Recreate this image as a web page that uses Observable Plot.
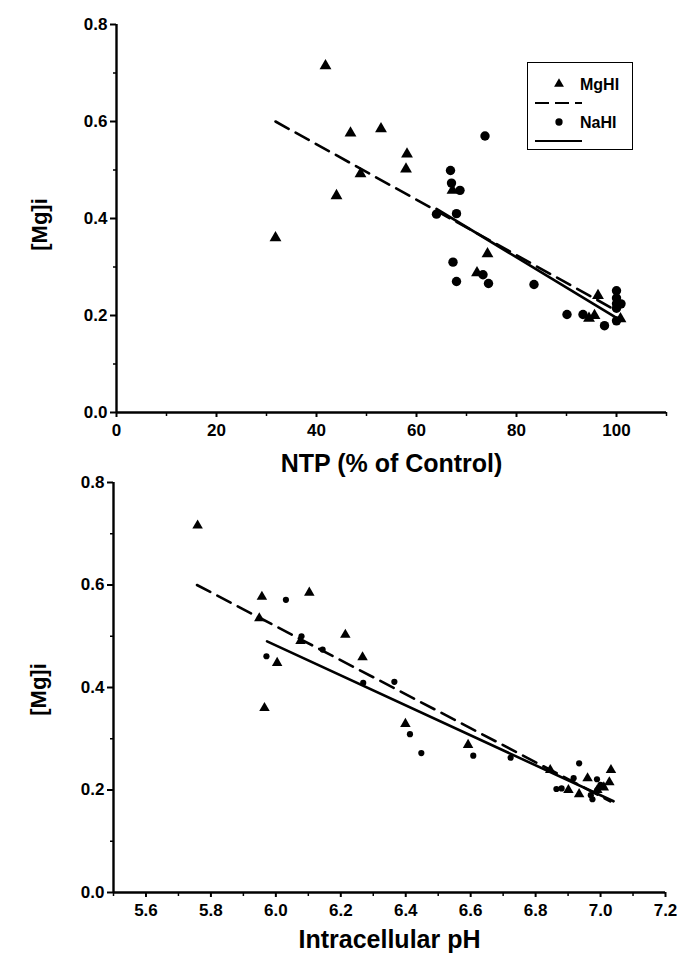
<!DOCTYPE html>
<html>
<head>
<meta charset="utf-8">
<script src="https://cdn.jsdelivr.net/npm/d3@7"></script>
<script src="https://cdn.jsdelivr.net/npm/@observablehq/plot@0.6"></script>
<style>
  html, body { margin: 0; padding: 0; background: #fff; }
  #wrap { position: relative; width: 677px; height: 955px; font-family: "Liberation Sans", Arial, sans-serif; }
  #wrap svg { display: block; }
  #wrap svg text { font-weight: bold; }
  #wrap svg g[aria-label$="tick label"], #wrap svg g[aria-label$="tick label"] text { font-size: 17px !important; font-weight: bold; }
  #legend { position: absolute; left: 527px; top: 62px; width: 106px; height: 88px; border: 1.5px solid #000; background: #fff; box-sizing: border-box; }
</style>
</head>
<body>
<div id="wrap">
  <div id="top"></div>
  <div id="bottom"></div>
  <div id="legend"></div>
</div>
<script>
// ---------- data ----------
// Top panel: NTP (% of control) vs [Mg]i
const ntpMgHI = [31.8, 41.8, 44.0, 46.8, 48.8, 52.9, 57.9, 58.1, 67.2, 72.1, 74.2, 94.5, 95.6, 96.3, 100.8];
const mgTopMgHI = [0.360, 0.715, 0.447, 0.576, 0.492, 0.585, 0.502, 0.533, 0.458, 0.288, 0.327, 0.194, 0.200, 0.241, 0.193];
const ntpNaHI = [64.0, 66.8, 67.0, 67.3, 68.0, 68.0, 68.7, 73.3, 73.7, 74.4, 83.5, 90.1, 93.3, 97.6, 100.0, 100.0, 100.0, 100.0, 100.0, 100.9];
const mgTopNaHI = [0.409, 0.499, 0.473, 0.310, 0.410, 0.270, 0.458, 0.284, 0.570, 0.266, 0.264, 0.202, 0.202, 0.179, 0.251, 0.236, 0.224, 0.215, 0.189, 0.224];
// regression lines (end points)
const fitTopMgHI_x = [31.8, 100.0], fitTopMgHI_y = [0.600, 0.210];
const fitTopNaHI_x = [64.0, 100.0], fitTopNaHI_y = [0.420, 0.195];

// Bottom panel: intracellular pH vs [Mg]i
const phMgHI = [5.759, 5.957, 6.103, 5.949, 6.076, 6.214, 6.004, 6.267, 5.965, 6.399, 6.592, 6.845, 6.960, 7.032, 7.027, 6.901, 6.934, 6.990, 7.010];
const mgBotMgHI = [0.716, 0.577, 0.585, 0.535, 0.491, 0.503, 0.448, 0.459, 0.360, 0.329, 0.288, 0.239, 0.223, 0.239, 0.215, 0.200, 0.192, 0.200, 0.205];
const phNaHI = [6.031, 6.079, 6.144, 5.971, 6.269, 6.365, 6.413, 6.448, 6.608, 6.723, 6.934, 6.917, 6.989, 6.864, 6.880, 6.975, 6.970, 6.990, 7.000];
const mgBotNaHI = [0.571, 0.500, 0.474, 0.461, 0.409, 0.411, 0.309, 0.272, 0.267, 0.263, 0.252, 0.223, 0.221, 0.202, 0.203, 0.182, 0.190, 0.200, 0.210];
const fitBotMgHI_x = [5.757, 7.030], fitBotMgHI_y = [0.600, 0.178];
const fitBotNaHI_x = [5.973, 7.040], fitBotNaHI_y = [0.490, 0.178];

// axes
const yTicks = [0, 0.2, 0.4, 0.6, 0.8];
const yMinor = [0.1, 0.3, 0.5, 0.7];
const ntpTicks = [0, 20, 40, 60, 80, 100];
const ntpMinor = [10, 30, 50, 70, 90, 110];
const phTicks = [5.6, 5.8, 6.0, 6.2, 6.4, 6.6, 6.8, 7.0, 7.2];
const phMinor = [5.5, 5.7, 5.9, 6.1, 6.3, 6.5, 6.7, 6.9, 7.1];
const seriesNames = ["MgHI", "NaHI"];

const zip = (xs, ys) => xs.map((x, i) => ({x, y: ys[i]}));
const FONT = "'Liberation Sans', Arial, sans-serif";

function panel(o) {
  return Plot.plot({
    width: 677, height: o.height,
    marginTop: o.mt, marginBottom: o.mb, marginLeft: o.ml, marginRight: o.mr,
    style: {fontFamily: FONT, fontSize: "17px", fontWeight: "bold", color: "#000", background: "#fff", overflow: "visible"},
    x: {domain: o.xDomain, label: null},
    y: {domain: [0, 0.8], label: null},
    marks: [
      Plot.axisY({ticks: yTicks, tickFormat: d3.format(".1f"), tickSize: 6, tickPadding: 3, strokeWidth: 2, label: null}),
      Plot.axisY({ticks: yMinor, tickFormat: () => "", tickSize: 3, strokeWidth: 1.5, label: null}),
      Plot.axisX({ticks: o.xTicks, tickFormat: o.xFmt, tickSize: 5, tickPadding: 6, strokeWidth: 2, label: null}),
      Plot.axisX({ticks: o.xMinor, tickFormat: () => "", tickSize: 4, strokeWidth: 1.5, label: null}),
      Plot.ruleX([o.xDomain[0]], {y1: 0, y2: 0.8, strokeWidth: 2.4}),
      Plot.ruleY([0], {x1: o.xDomain[0], x2: o.xDomain[1], strokeWidth: 2.4}),
      Plot.line(zip(o.dashX, o.dashY), {x: "x", y: "y", stroke: "#000", strokeWidth: 2.6, strokeDasharray: "15,8"}),
      Plot.line(zip(o.solidX, o.solidY), {x: "x", y: "y", stroke: "#000", strokeWidth: 2.6}),
      Plot.dot(zip(o.triX, o.triY), {x: "x", y: "y", symbol: "triangle", fill: "#000", stroke: "none", r: o.rTri}),
      Plot.dot(zip(o.cirX, o.cirY), {x: "x", y: "y", symbol: "circle", fill: "#000", stroke: "none", r: o.rCir}),
      Plot.text([o.xLabel], {frameAnchor: "bottom", lineAnchor: "middle", textAnchor: "middle", dy: o.xLabDy, fontSize: 25, fontWeight: "bold", fill: "#000"}),
      Plot.text(["[Mg]i"], {frameAnchor: "left", textAnchor: "middle", lineAnchor: "middle", dx: o.yLabDx, dy: o.yLabDy, rotate: -90, fontSize: 22, fontWeight: "bold", fill: "#000"})
    ]
  });
}

document.getElementById("top").append(panel({
  height: 470, mt: 24, mb: 58, ml: 116, mr: 11,
  xDomain: [0, 110], xTicks: ntpTicks, xMinor: ntpMinor, xFmt: d3.format("d"),
  triX: ntpMgHI, triY: mgTopMgHI, cirX: ntpNaHI, cirY: mgTopNaHI,
  dashX: fitTopMgHI_x, dashY: fitTopMgHI_y, solidX: fitTopNaHI_x, solidY: fitTopNaHI_y,
  rTri: 4.4, rCir: 4.7, xLabel: "NTP (% of Control)", xLabDy: 51, yLabDx: -77, yLabDy: 6
}));

document.getElementById("bottom").append(panel({
  height: 485, mt: 12, mb: 63, ml: 113, mr: 12,
  xDomain: [5.5, 7.2], xTicks: phTicks, xMinor: phMinor, xFmt: d3.format(".1f"),
  triX: phMgHI, triY: mgBotMgHI, cirX: phNaHI, cirY: mgBotNaHI,
  dashX: fitBotMgHI_x, dashY: fitBotMgHI_y, solidX: fitBotNaHI_x, solidY: fitBotNaHI_y,
  rTri: 3.9, rCir: 3.1, xLabel: "Intracellular pH", xLabDy: 47, yLabDx: -75, yLabDy: 2
}));

// legend
const lg = d3.select("#legend").append("svg").attr("width", 104).attr("height", 86)
  .style("font-family", FONT);
const sym = d3.symbol();
const rows = [
  {name: seriesNames[0], shape: d3.symbolTriangle, dash: "14,6", y: 21},
  {name: seriesNames[1], shape: d3.symbolCircle, dash: null, y: 59}
];
rows.forEach(r => {
  lg.append("path").attr("d", sym.type(r.shape).size(42)())
    .attr("transform", `translate(31,${r.y})`).attr("fill", "#000");
  lg.append("text").attr("x", 52).attr("y", r.y + 6).attr("font-size", 16).attr("font-weight", "bold").text(r.name);
  lg.append("line").attr("x1", 7).attr("x2", 54).attr("y1", r.y + 19).attr("y2", r.y + 19)
    .attr("stroke", "#000").attr("stroke-width", 2.2).attr("stroke-dasharray", r.dash);
});
</script>
</body>
</html>
